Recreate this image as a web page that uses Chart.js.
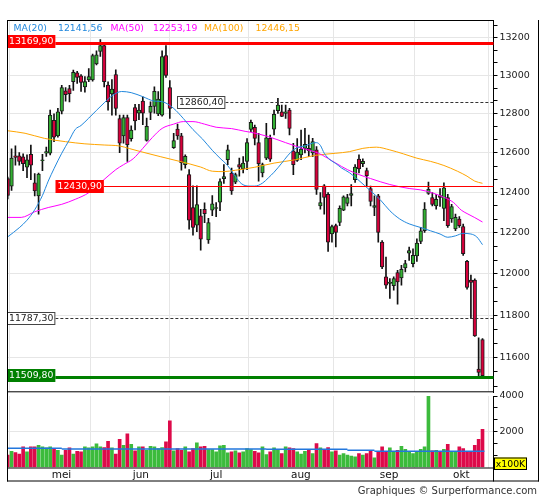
<!DOCTYPE html>
<html>
<head>
<meta charset="utf-8">
<title>Graphiques</title>
<script src="https://cdn.jsdelivr.net/npm/chart.js@4.4.1/dist/chart.umd.min.js"></script>
<style>
  html, body { margin: 0; padding: 0; background: #fff; }
  #wrap { position: relative; width: 545px; height: 500px; overflow: hidden; }
  #price { position: absolute; left: 0; top: 0; }
  #volume { position: absolute; left: 0; top: 385px; }
  #credit { position: absolute; right: 8px; top: 485px; font: 10px "DejaVu Sans", sans-serif; color: #333; white-space: nowrap; }
</style>
</head>
<body>
<div id="wrap">
  <canvas id="price" width="545" height="400"></canvas>
  <canvas id="volume" width="545" height="115"></canvas>
  <div id="credit">Graphiques © Surperformance.com</div>
</div>
<script>
// koersen per dag (index 0 = eerste dag eind april)
var opens  = [12470,12432,12585,12585,12580,12528,12593,12449,12383,12560,12598,12598,12767,12687,12814,12919,12931,12967,13014,12998,
              12940,12977,12977,13061,13126,13157,12950,12903,13004,12776,12687,12781,12672,12832,12803,12866,12663,12808,12839,12800,
              12793,13104,12937,12627,12722,12687,12540,12490,12325,12237,12284,12316,12165,12312,12320,12352,12470,12565,12498,12452,
              12540,12518,12557,12720,12730,12652,12498,12573,12674,12721,12816,12810,12802,12819,12610,12561,12590,12623,12623,12600,
              12615,12333,12433,12391,12194,12235,12251,12312,12345,12385,12465,12568,12545,12510,12420,12325,12383,12154,11985,11953,
              11942,12006,11980,12028,12100,12049,12086,12157,12210,12396,12375,12333,12385,12320,12375,12268,12219,12268,12231,12060,
              11969,11969,11547,11685];
var highs  = [12478,12620,12636,12601,12595,12590,12640,12495,12497,12593,12630,12819,12800,12828,12948,12936,12948,13028,13022,13005,
              12994,13036,13112,13130,13190,13166,12967,12978,13030,12793,12793,12793,12738,12849,12849,12888,12778,12862,12940,12915,
              13130,13157,12973,12700,12747,12700,12590,12515,12433,12433,12316,12349,12272,12384,12350,12468,12540,12640,12523,12498,
              12573,12581,12673,12768,12742,12700,12548,12751,12691,12819,12880,12845,12845,12828,12648,12673,12717,12725,12691,12674,
              12632,12400,12440,12400,12238,12243,12333,12383,12391,12440,12540,12590,12570,12523,12432,12383,12391,12162,12081,11977,
              11985,12017,12041,12065,12130,12121,12170,12227,12350,12452,12400,12391,12420,12448,12391,12341,12292,12280,12243,12065,
              11993,11975,11693,11690];
var lows   = [12368,12410,12537,12537,12510,12475,12465,12383,12292,12510,12582,12590,12657,12680,12800,12866,12862,12921,12958,12917,
              12913,12967,12970,13055,13100,12940,12819,12793,12793,12601,12650,12556,12660,12717,12770,12744,12660,12770,12803,12790,
              12788,12990,12776,12622,12668,12512,12522,12218,12188,12205,12115,12250,12148,12284,12280,12310,12445,12540,12391,12444,
              12482,12498,12515,12708,12640,12457,12478,12565,12557,12691,12802,12785,12776,12691,12490,12557,12565,12600,12581,12581,
              12391,12317,12292,12108,12154,12130,12235,12309,12333,12333,12450,12498,12530,12432,12333,12284,12154,12025,11929,11881,
              11921,11853,11945,12009,12065,12033,12060,12146,12202,12391,12333,12317,12330,12260,12227,12251,12211,12227,12089,11925,
              11786,11700,11516,11510];
var closes = [12385,12573,12577,12557,12545,12565,12537,12408,12493,12565,12607,12793,12680,12810,12936,12900,12905,13016,12990,12963,
              12968,12994,13104,13108,13157,12967,12862,12928,12828,12650,12781,12642,12717,12764,12820,12803,12736,12839,12917,12876,
              13100,13000,12828,12662,12687,12550,12582,12262,12227,12340,12168,12295,12250,12344,12325,12455,12480,12615,12408,12490,
              12528,12548,12652,12756,12674,12545,12540,12677,12568,12798,12845,12787,12810,12725,12540,12604,12619,12643,12610,12657,
              12416,12350,12375,12154,12230,12202,12321,12378,12375,12395,12528,12518,12557,12485,12355,12335,12202,12033,11945,11960,
              11977,11961,12021,12049,12113,12089,12149,12210,12317,12416,12341,12366,12375,12424,12235,12330,12276,12235,12097,11934,
              11958,11703,11531,11516];
// volume in eenheden van 100K
var volumes = [688,911,837,744,1153,874,1153,1153,1246,1153,1097,1153,1060,967,688,967,1097,744,911,874,
               1153,1097,1153,1321,1153,1116,1469,1097,744,1581,1246,1879,1302,930,1153,1153,967,1190,1153,1060,
               1116,1432,2604,930,1060,967,1153,874,1060,1376,1153,1190,1004,1004,874,1209,1246,818,874,930,
               818,874,1060,1004,911,818,1153,725,874,1097,1004,781,1153,1097,1060,874,744,911,1004,781,
               1339,1097,967,1116,874,930,688,781,688,632,595,781,688,781,930,539,874,1153,874,1097,
               874,967,1190,1023,874,781,874,1023,1153,4300,930,967,874,1023,1302,911,911,1153,1060,911,
               911,1246,1581,2139];

var ma20At = [0,3,5,7,9,10.5,12,14,16,17.5,19,21,23,25,27,29.5,32,35,38,40,43,45.5,48,50.5,53,55,57,59,60.5,62.5,
              64,66,67.5,69,71,72.5,74,75.5,77,79,80,81,82,83.5,85,86.5,88.5,91,94,96.5,99,101.5,104,107,109.5,112,114,116,118,120,121.5,123];
var ma20   = [12180,12225,12262,12314,12385,12457,12520,12598,12667,12720,12740,12778,12818,12857,12893,12916,12910,12889,12866,12863,
              12828,12776,12719,12670,12613,12573,12535,12480,12445,12432,12432,12447,12473,12502,12548,12585,12615,12630,12635,12650,
              12652,12638,12598,12565,12546,12523,12500,12460,12408,12364,12309,12269,12244,12226,12210,12194,12178,12185,12197,12194,12180,12141.56];
var ma50At = [0,3.5,7,10.5,14,17.5,21,24.5,28,30,32.5,35,37.5,40,43,45.5,48,51,54,58,61.5,63,67.5,72,76,80.5,85,88,91,94,
              99,104,107,110,113,115.5,117.5,119,121,123];
var ma50   = [12276,12276,12304,12325,12341,12366,12399,12457,12515,12540,12570,12623,12679,12725,12747,12760,12760,12747,12731,12724,
              12710,12705,12683,12652,12625,12598,12548,12515,12490,12470,12440,12420,12413,12398,12376,12350,12312,12295,12275,12253.19];
var ma100At = [0,4.5,9.5,15,20,25,29,31.5,34.5,39.5,44.5,50,53,56,59,64,69,74.5,79.5,85,88.5,92,95.5,99,102.5,106,109.5,113,116.5,119,121,123];
var ma100   = [12713,12700,12674,12657,12646,12640,12635,12622,12606,12581,12557,12528,12507,12505,12512,12527,12548,12565,12587,12598,
               12606,12623,12629,12615,12595,12573,12557,12536,12507,12482,12457,12446.15];

// gemiddeld volume per periode
var volAvgFrom = [0, 14, 67, 88, 95];
var volAvgTo   = [14, 67, 88, 95, 123.5];
var volAvg     = [1070, 1035, 1020, 960, 910];

// horizontale niveaus
var levelValues = [13169.90, 12860.40, 12430.90, 11787.30, 11509.80];

// assen
var monthAt    = [11, 32, 52, 73, 96, 115];
var monthNames = ['mei', 'jun', 'jul', 'aug', 'sep', 'okt'];
var priceTicks = [11600, 11800, 12000, 12200, 12400, 12600, 12800, 13000, 13200];
var volTicks   = [2000, 4000];

var FONT = '"DejaVu Sans", sans-serif';
var UP = '#33b033', DOWN = '#d6003b';
var C20 = '#2288dd', C50 = '#ff00ff', C100 = '#ffa500';
var XMIN = -0.181, XMAX = 125.85;

Chart.defaults.font.family = FONT;
Chart.defaults.font.size = 9.5;
Chart.defaults.color = '#1a1a1a';
Chart.defaults.animation = false;

function fmt(v) { return v.toFixed(2).replace('.', ','); }
function isUp(i) { return closes[i] >= opens[i]; }
function pairs(at, vals) { return at.map(function (x, k) { return {x: x, y: vals[k]}; }); }
function isLabel(list, v) { return list.some(function (l) { return Math.abs(l - v) < 0.01; }); }
// tick elke 1/3 van de labelstap, zoals in het origineel
function minorTicks(list, lo, hi) {
  var step = (list[1] - list[0]) / 3, out = [];
  var v = list[0] - Math.floor((list[0] - lo) / step) * step;
  for (; v <= hi + 0.001; v += step) out.push({value: v});
  return out;
}

var idx = opens.map(function (o, i) { return i; });

/* koersgrafiek */
var levelStyle = [
  {line: '#ff0000', width: 3, dash: [], box: '#ff0000', text: '#fff', x: 7, lift: 2},
  {line: '#333', width: 1, dash: [3, 2], box: '#fff', text: '#222', x: 177, lift: 0, border: '#444'},
  {line: '#ff0000', width: 1, dash: [], box: '#ff0000', text: '#fff', x: 55.5, lift: 0},
  {line: '#333', width: 1, dash: [3, 2], box: '#fff', text: '#222', x: 7, lift: 0, border: '#444'},
  {line: '#008000', width: 3, dash: [], box: '#008000', text: '#fff', x: 7, lift: 2}
];

var priceDecor = {
  id: 'priceDecor',
  afterDatasetsDraw: function (chart) {
    var ctx = chart.ctx, a = chart.chartArea, ys = chart.scales.y;
    ctx.save();
    ctx.font = '9.3px ' + FONT;
    ctx.textBaseline = 'middle';
    ctx.textAlign = 'left';
    levelValues.forEach(function (v, k) {
      var st = levelStyle[k];
      var y = Math.round(ys.getPixelForValue(v)) + (st.width % 2 ? 0.5 : 0);
      var txt = fmt(v), w = ctx.measureText(txt).width + 4, h = 13;
      var by = Math.round(y - h / 2 - st.lift);
      ctx.beginPath();
      ctx.setLineDash(st.dash);
      ctx.lineWidth = st.width;
      ctx.strokeStyle = st.line;
      ctx.moveTo(st.x + w, y);
      ctx.lineTo(a.right, y);
      ctx.stroke();
      ctx.setLineDash([]);
      ctx.fillStyle = st.box;
      ctx.fillRect(st.x, by, w, h);
      if (st.border) {
        ctx.lineWidth = 1;
        ctx.strokeStyle = st.border;
        ctx.strokeRect(st.x + 0.5, by + 0.5, w - 1, h - 1);
      }
      ctx.fillStyle = st.text;
      ctx.fillText(txt, st.x + 2, by + h / 2 + 0.5);
    });

    // legenda bovenaan
    var leg = [['MA(20)', C20, 13.5], [fmt(ma20[ma20.length - 1]), C20, 58],
               ['MA(50)', C50, 110.5], [fmt(ma50[ma50.length - 1]), C50, 153],
               ['MA(100)', C100, 204], [fmt(ma100[ma100.length - 1]), C100, 255.5]];
    leg.forEach(function (l) { ctx.fillStyle = l[1]; ctx.fillText(l[0], l[2], 28.5); });

    // kader
    ctx.strokeStyle = '#000';
    ctx.lineWidth = 1;
    ctx.beginPath();
    ctx.moveTo(a.left + 0.5, a.top); ctx.lineTo(a.left + 0.5, chart.height);
    ctx.moveTo(a.left, a.top + 0.5); ctx.lineTo(a.right, a.top + 0.5);
    ctx.moveTo(a.left, a.bottom - 0.5); ctx.lineTo(a.right, a.bottom - 0.5);
    ctx.moveTo(538.5, a.top); ctx.lineTo(538.5, chart.height);
    ctx.stroke();
    ctx.restore();
  }
};

new Chart(document.getElementById('price'), {
  type: 'bar',
  data: {
    datasets: [
      {type: 'line', data: pairs(ma20At, ma20), borderColor: C20, borderWidth: 1, pointRadius: 0, cubicInterpolationMode: 'monotone', order: 0},
      {type: 'line', data: pairs(ma50At, ma50), borderColor: C50, borderWidth: 1, pointRadius: 0, cubicInterpolationMode: 'monotone', order: 0},
      {type: 'line', data: pairs(ma100At, ma100), borderColor: C100, borderWidth: 1, pointRadius: 0, cubicInterpolationMode: 'monotone', order: 0},
      {
        data: idx.map(function (i) { return {x: i, y: [opens[i], closes[i]]}; }),
        backgroundColor: idx.map(function (i) { return isUp(i) ? UP : DOWN; }),
        borderColor: '#1a1a1a', borderWidth: 1, borderSkipped: false,
        barThickness: 3.6, grouped: false, order: 1
      },
      {
        data: idx.map(function (i) { return {x: i, y: [lows[i], highs[i]]}; }),
        backgroundColor: '#111', borderWidth: 0,
        barThickness: 1, grouped: false, order: 2
      }
    ]
  },
  options: {
    responsive: false,
    layout: {padding: {left: 7, top: 20, right: 0, bottom: 4}},
    plugins: {legend: {display: false}, tooltip: {enabled: false}},
    scales: {
      x: {
        type: 'linear', min: XMIN, max: XMAX, bounds: 'data', offset: false,
        afterBuildTicks: function (s) { s.ticks = monthAt.map(function (v) { return {value: v}; }); },
        afterFit: function (s) { s.height = 0; },
        ticks: {display: false},
        grid: {color: '#e6e6e6', drawTicks: false},
        border: {display: false}
      },
      y: {
        type: 'logarithmic', position: 'right', min: 11439.2, max: 13294.2, bounds: 'data',
        afterBuildTicks: function (s) { s.ticks = minorTicks(priceTicks, s.min, s.max); },
        afterFit: function (s) { s.width = 51.5; },
        ticks: {
          autoSkip: false, padding: 2, color: '#1a1a1a',
          callback: function (v) { return isLabel(priceTicks, v) ? String(Math.round(v)) : ''; }
        },
        grid: {
          color: function (c) { return c.tick && isLabel(priceTicks, c.tick.value) ? '#e6e6e6' : 'rgba(0,0,0,0)'; },
          tickColor: '#000', tickLength: 4
        },
        border: {display: true, color: '#000'}
      }
    }
  },
  plugins: [priceDecor]
});

/* volumegrafiek */
var volDecor = {
  id: 'volDecor',
  afterDraw: function (chart) {
    var ctx = chart.ctx, a = chart.chartArea, band = a.bottom + 14;
    ctx.save();
    ctx.strokeStyle = '#000';
    ctx.lineWidth = 1;
    ctx.beginPath();
    ctx.moveTo(a.left + 0.5, a.top); ctx.lineTo(a.left + 0.5, band);
    ctx.moveTo(a.left, a.bottom + 0.5); ctx.lineTo(a.right, a.bottom + 0.5);
    ctx.moveTo(a.right, a.bottom); ctx.lineTo(a.right, band);
    ctx.moveTo(a.left, band - 0.5); ctx.lineTo(539, band - 0.5);
    ctx.moveTo(538.5, 0); ctx.lineTo(538.5, band);
    ctx.stroke();
    // eenheid
    var bx = a.right + 0.5, by = a.bottom - 10, bw = 33, bh = 12.5;
    ctx.fillStyle = '#ffff00';
    ctx.fillRect(bx, by, bw, bh);
    ctx.strokeRect(bx + 0.5, by + 0.5, bw - 1, bh - 1);
    ctx.fillStyle = '#000';
    ctx.font = '9.3px ' + FONT;
    ctx.textBaseline = 'middle';
    ctx.textAlign = 'center';
    ctx.fillText('x100K', bx + bw / 2, by + bh / 2 + 0.5);
    ctx.restore();
  }
};

var avgLine = [];
volAvg.forEach(function (v, k) {
  avgLine.push({x: volAvgFrom[k], y: v}, {x: volAvgTo[k], y: v}, {x: volAvgTo[k], y: null});
});

new Chart(document.getElementById('volume'), {
  type: 'bar',
  data: {
    datasets: [
      {type: 'line', data: avgLine, borderColor: '#2277dd', borderWidth: 1.5, pointRadius: 0, spanGaps: false, order: 0},
      {
        data: idx.map(function (i) { return {x: i, y: volumes[i]}; }),
        backgroundColor: idx.map(function (i) { return isUp(i) ? '#3cbb3c' : '#dd0a4a'; }),
        borderWidth: 0, barThickness: 3, order: 1
      }
    ]
  },
  options: {
    responsive: false,
    layout: {padding: {left: 7, top: 11, right: 0, bottom: 18.5}},
    plugins: {legend: {display: false}, tooltip: {enabled: false}},
    scales: {
      x: {
        type: 'linear', min: XMIN, max: XMAX, bounds: 'data', offset: false,
        afterBuildTicks: function (s) { s.ticks = monthAt.map(function (v) { return {value: v}; }); },
        afterFit: function (s) { s.height = 14; },
        ticks: {
          autoSkip: false, maxRotation: 0, align: 'start', labelOffset: 1.5, padding: 1,
          font: {size: 10.5}, color: '#111',
          callback: function (v) { var k = monthAt.indexOf(v); return k >= 0 ? monthNames[k] : ''; }
        },
        grid: {color: '#e6e6e6', drawTicks: false},
        border: {display: false}
      },
      y: {
        position: 'right', min: 0, max: 4000, bounds: 'data',
        afterBuildTicks: function (s) { s.ticks = minorTicks(volTicks, 0, 4000); },
        afterFit: function (s) { s.width = 51.5; },
        ticks: {
          autoSkip: false, padding: 2, color: '#1a1a1a',
          callback: function (v) { return isLabel(volTicks, v) ? String(Math.round(v)) : ''; }
        },
        grid: {
          color: function (c) { return c.tick && Math.abs(c.tick.value - 2000) < 0.01 ? '#e6e6e6' : 'rgba(0,0,0,0)'; },
          tickColor: '#000', tickLength: 4
        },
        border: {display: true, color: '#000'}
      }
    }
  },
  plugins: [volDecor]
});
</script>
</body>
</html>
